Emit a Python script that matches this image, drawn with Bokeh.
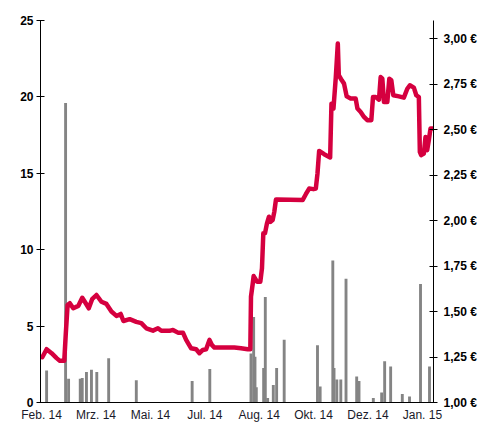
from bokeh.plotting import figure
from bokeh.models import Range1d, LinearAxis, FixedTicker, CustomJSTickFormatter
from bokeh.embed import file_html
from bokeh.resources import INLINE

# x: days since 1 Feb 2014
tick_days = [0, 49, 98, 147, 196, 245, 294, 343]
tick_labels = ["Feb. 14", "Mrz. 14", "Mai. 14", "Jul. 14", "Aug. 14", "Okt. 14", "Dez. 14", "Jan. 15"]

# Volume (left axis)
vol_days = [4.5, 21.6, 24.3, 34.8, 36.6, 40.4, 44.9, 49.7, 60.4, 85.3, 135.6, 151.5,
            188.6, 191.0, 192.2, 193.4, 200.0, 201.5, 203.6, 208.7, 211.7, 218.5,
            248.5, 250.9, 262.3, 263.4, 265.9, 269.5, 274.2, 283.8, 285.9, 298.8,
            306.3, 309.0, 314.4, 324.9, 331.4, 341.3, 349.4]
vol_values = [2.1, 19.6, 1.55, 1.55, 1.6, 2.0, 2.15, 2.0, 2.9, 1.45, 1.4, 2.2,
              3.2, 5.6, 3.0, 1.0, 2.25, 6.9, 0.3, 1.15, 2.25, 4.1,
              3.75, 1.05, 9.3, 2.25, 1.5, 1.5, 8.1, 1.7, 1.4, 0.3,
              0.65, 2.7, 2.35, 0.55, 0.4, 7.75, 2.35]

# Price in EUR (right axis)
price_days = [0.6, 4.5, 9.0, 13.5, 16.4, 20.4, 21.8, 23.4, 25.4, 28.5, 33.0, 36.6, 38.9,
              42.5, 45.5, 49.4, 53.9, 58.4, 62.9, 67.4, 71.2, 73.7, 79.3, 85.3, 89.8,
              94.3, 100.3, 104.8, 107.8, 115.2, 118.3, 122.8, 127.3, 130.2, 134.7, 139.2,
              142.2, 145.2, 148.2, 151.2, 153.3, 155.7, 173.6, 179.6, 185.7, 188.0, 188.6,
              190.2, 191.0, 194.0, 197.0, 198.5, 199.7, 201.2, 203.0, 204.8, 206.0, 208.1,
              209.6, 211.1, 212.6, 235.1, 238.0, 241.0, 244.9, 247.0, 248.5, 250.0, 254.5,
              259.9, 261.1, 262.9, 265.0, 266.8, 267.7, 270.4, 272.4, 274.8, 278.4, 282.9,
              284.5, 287.4, 290.4, 293.4, 297.0, 298.5, 300.9, 303.9, 305.4, 306.9, 308.4,
              311.4, 313.2, 315.0, 316.8, 321.8, 326.3, 329.4, 331.7, 335.3, 337.5, 339.8,
              340.7, 341.9, 344.3, 345.8, 347.3, 348.8, 350.3, 352.7]
price_values = [1.249, 1.293, 1.271, 1.244, 1.229, 1.229, 1.38, 1.536, 1.546, 1.518, 1.531,
                1.576, 1.554, 1.518, 1.568, 1.591, 1.554, 1.542, 1.5, 1.476, 1.487, 1.448,
                1.458, 1.443, 1.436, 1.408, 1.395, 1.408, 1.394, 1.394, 1.399, 1.384, 1.384,
                1.344, 1.298, 1.293, 1.271, 1.289, 1.293, 1.344, 1.317, 1.302, 1.302, 1.298,
                1.293, 1.293, 1.582, 1.655, 1.695, 1.664, 1.664, 1.738, 1.93, 1.93, 1.985,
                2.021, 1.993, 2.003, 2.048, 2.116, 2.116, 2.113, 2.145, 2.176, 2.173, 2.176,
                2.259, 2.383, 2.365, 2.347, 2.643, 2.616, 2.789, 2.973, 2.799, 2.771, 2.753,
                2.683, 2.671, 2.671, 2.616, 2.597, 2.570, 2.552, 2.552, 2.679, 2.679, 2.665,
                2.789, 2.78, 2.652, 2.652, 2.78, 2.771, 2.689, 2.683, 2.676, 2.725, 2.744,
                2.731, 2.689, 2.679, 2.378, 2.36, 2.369, 2.46, 2.387, 2.442, 2.506, 2.506]

left_ticks = [0, 5, 10, 15, 20, 25]
right_ticks = [1.0, 1.25, 1.5, 1.75, 2.0, 2.25, 2.5, 2.75, 3.0]

p = figure(width=485, height=424, output_backend="svg", toolbar_location=None,
           x_range=Range1d(-1, 353), y_range=Range1d(0, 25),
           min_border_left=40, min_border_right=52, min_border_top=20, min_border_bottom=22)
p.extra_y_ranges = {"price": Range1d(1.0, 3.1)}
p.outline_line_color = None
p.xgrid.visible = False
p.ygrid.visible = False
p.background_fill_color = "white"
p.border_fill_color = "white"

p.vbar(x=vol_days, top=vol_values, width=2.6, bottom=0, color="#848484", line_color=None)
p.line(price_days, price_values, y_range_name="price", line_color="#d5003f",
       line_width=4.5, line_join="round", line_cap="round")

FONT = "Liberation Sans"

# bottom axis
xa = p.xaxis[0]
xa.ticker = FixedTicker(ticks=tick_days)
xa.major_label_overrides = {d: l for d, l in zip(tick_days, tick_labels)}
xa.major_tick_in = 0
xa.major_tick_out = 0
xa.minor_tick_line_color = None
xa.axis_line_color = "black"
xa.major_label_text_font = FONT
xa.major_label_text_font_size = "12px"
xa.major_label_text_color = "#1a1a2a"
xa.major_label_standoff = 5

# left axis
ya = p.yaxis[0]
ya.ticker = FixedTicker(ticks=left_ticks)
ya.major_tick_in = 4
ya.major_tick_out = 4
ya.minor_tick_line_color = None
ya.axis_line_color = "black"
ya.major_label_text_font = FONT
ya.major_label_text_font_size = "12px"
ya.major_label_text_font_style = "bold"
ya.major_label_text_color = "black"
ya.major_label_standoff = 3

# right axis
ra = LinearAxis(y_range_name="price", ticker=FixedTicker(ticks=right_ticks),
                formatter=CustomJSTickFormatter(code="return tick.toFixed(2).replace('.', ',') + ' \u20ac';"))
ra.major_tick_in = 4
ra.major_tick_out = 4
ra.minor_tick_line_color = None
ra.axis_line_color = "black"
ra.major_label_text_font = FONT
ra.major_label_text_font_size = "12px"
ra.major_label_text_font_style = "bold"
ra.major_label_text_color = "black"
ra.major_label_standoff = 6
p.add_layout(ra, "right")

open("out.html", "w").write(file_html(p, INLINE))
